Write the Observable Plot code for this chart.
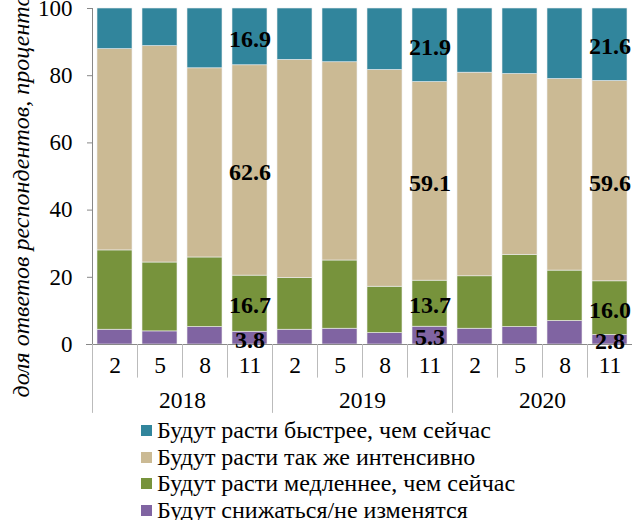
<!DOCTYPE html>
<html><head><meta charset="utf-8">
<script src="https://cdn.jsdelivr.net/npm/d3@7"></script>
<script src="https://cdn.jsdelivr.net/npm/@observablehq/plot@0.6"></script>
<style>
body{margin:0;background:#fff;font-family:"Liberation Serif",serif;}
#legend{padding-left:141px;font-size:24px;line-height:26.7px;color:#000;}
#legend .row{display:flex;align-items:center;white-space:nowrap;}
#legend .sw{width:11px;height:11px;margin-right:5px;display:inline-block;}
</style></head>
<body><div id="chart"></div><div id="legend"></div>
<script>
const years = [2018, 2019, 2020];
const months = [2, 5, 8, 11];
const categories = ["Будут снижаться/не изменятся","Будут расти медленнее, чем сейчас","Будут расти так же интенсивно","Будут расти быстрее, чем сейчас"];
const colors = ["#8064a2","#77933c","#cbba94","#31859c"];
const decline = [4.4, 3.9, 5.2, 3.8, 4.4, 4.7, 3.4, 5.3, 4.7, 5.2, 7.0, 2.8];
const slower  = [23.6, 20.5, 20.7, 16.7, 15.4, 20.3, 13.8, 13.7, 15.6, 21.5, 15.0, 16.0];
const same    = [59.9, 64.4, 56.3, 62.6, 64.9, 59.0, 64.5, 59.1, 60.6, 53.8, 57.0, 59.6];
const faster  = [12.1, 11.2, 17.8, 16.9, 15.3, 16.0, 18.3, 21.9, 19.1, 19.5, 21.0, 21.6];
const labeledMonth = 11;
const yTicks = [0, 20, 40, 60, 80, 100];
const yLabel = "доля ответов респондентов, процентов";

const series = [decline, slower, same, faster];
const periods = years.flatMap(y => months.map(m => ({year: y, month: m, key: `${y}-${m}`})));
const keys = periods.map(p => p.key);
const rows = [];
periods.forEach((p, i) => categories.forEach((c, j) => rows.push({...p, cat: c, value: series[j][i]})));
const yearFirst = years.map(y => `${y}-${months[0]}`);
const yearMid = years.map(y => ({year: y, key: `${y}-${months[1]}`}));
const lastKey = keys[keys.length - 1];
const half = 22.5;
const font = "Liberation Serif";

const plot = Plot.plot({
  width: 632, height: 417,
  marginLeft: 92, marginRight: 0, marginTop: 8, marginBottom: 73,
  style: {fontFamily: font, fontSize: "22px", color: "#000", background: "#fff"},
  x: {domain: keys, paddingInner: 0.233, paddingOuter: 0.1165, axis: null},
  y: {domain: [0, 100], axis: null},
  color: {domain: categories, range: colors},
  marks: [
    Plot.barY(rows, Plot.stackY({x: "key", y: "value", fill: "cat", order: categories, stroke: "#eee", strokeWidth: 0.6})),
    Plot.axisY({ticks: yTicks, label: null, text: null, tickSize: 5, stroke: "#888"}),
    Plot.text(yTicks, {y: d => d, text: d => String(d), frameAnchor: "left", textAnchor: "end", dx: -20, fontSize: 23, fill: "#000", lineAnchor: "middle"}),
    Plot.ruleX([keys[0]], {x: d => d, dx: -half, y1: 0, y2: 100, stroke: "#888"}),
    Plot.ruleY([0], {stroke: "#888", insetLeft: -6}),
    Plot.ruleX(keys, {x: d => d, dx: -half, y1: 0, y2: -10, stroke: "#bbb"}),
    Plot.ruleX(yearFirst, {x: d => d, dx: -half, y1: 0, y2: -20.5, stroke: "#bbb"}),
    Plot.ruleX([lastKey], {x: d => d, dx: half, y1: 0, y2: -20.5, stroke: "#bbb"}),
    Plot.text(periods, {x: "key", y: 0, text: d => String(d.month), dy: 21, fontSize: 23.5, fill: "#000", lineAnchor: "middle"}),
    Plot.text(yearMid, {x: "key", y: 0, text: d => String(d.year), dx: half, dy: 56, fontSize: 23.5, fill: "#000", lineAnchor: "middle"}),
    Plot.text(rows.filter(r => r.month === labeledMonth), Plot.stackY({x: "key", y: "value", z: "cat", order: categories, text: d => d.value.toFixed(1), dy: 2, fontSize: 24, fontWeight: "bold", fill: "#000", lineAnchor: "middle"})),
    Plot.text([yLabel], {frameAnchor: "left", rotate: -90, textAnchor: "start", dx: -71, dy: 221, fontSize: 24, fontStyle: "italic", fill: "#000", lineAnchor: "middle"})
  ]
});
document.getElementById("chart").append(plot);

const legend = document.getElementById("legend");
[3, 2, 1, 0].forEach(i => {
  const row = document.createElement("div"); row.className = "row";
  const sw = document.createElement("span"); sw.className = "sw"; sw.style.background = colors[i];
  const t = document.createElement("span"); t.textContent = categories[i];
  row.append(sw, t); legend.append(row);
});
</script></body></html>
